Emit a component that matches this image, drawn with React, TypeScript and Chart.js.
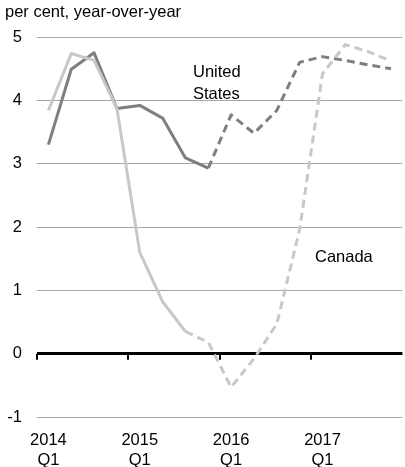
import React, { useEffect, useRef } from "react";
import { Chart, registerables } from "chart.js";

Chart.register(...registerables);

const quarters = [
  "2014 Q1", "2014 Q2", "2014 Q3", "2014 Q4",
  "2015 Q1", "2015 Q2", "2015 Q3", "2015 Q4",
  "2016 Q1", "2016 Q2", "2016 Q3", "2016 Q4",
  "2017 Q1", "2017 Q2", "2017 Q3", "2017 Q4",
];

const xTickLabels: (string | string[])[] = [
  ["2014", "Q1"], "", "", "",
  ["2015", "Q1"], "", "", "",
  ["2016", "Q1"], "", "", "",
  ["2017", "Q1"], "", "", "",
];

const unitedStates = [3.3, 4.49, 4.75, 3.87, 3.92, 3.72, 3.09, 2.93, 3.77, 3.48, 3.84, 4.6, 4.69, 4.63, 4.56, 4.5];
const canada = [3.84, 4.74, 4.63, 3.87, 1.6, 0.82, 0.35, 0.18, -0.53, -0.08, 0.47, 1.96, 4.42, 4.88, 4.77, 4.62];

// index of the first point of the projected (dashed) part
const usProjectionFrom = 7;
const canadaProjectionFrom = 6;

const yMin = -1;
const yMax = 5;

const FONT = "Arial, 'Liberation Sans', sans-serif";
const FONT_SIZE = 16.5;

const overlayPlugin = {
  id: "overlay",
  afterDatasetsDraw(chart: any) {
    const { ctx, scales } = chart;
    const x = scales.x;
    const y = scales.y;
    const y0 = y.getPixelForValue(0);
    const half = (x.getPixelForValue(1) - x.getPixelForValue(0)) / 2;
    ctx.save();
    ctx.strokeStyle = "#000";
    ctx.lineWidth = 2;
    ctx.beginPath();
    xTickLabels.forEach((l, i) => {
      if (l === "") return;
      const px = Math.round(x.getPixelForValue(i) - half);
      ctx.moveTo(px, y0);
      ctx.lineTo(px, y0 + 6);
    });
    ctx.stroke();
    ctx.restore();
  },
  afterDraw(chart: any) {
    const { ctx } = chart;
    ctx.save();
    ctx.fillStyle = "#000";
    ctx.font = `${FONT_SIZE}px ${FONT}`;
    ctx.textBaseline = "alphabetic";
    ctx.textAlign = "left";
    ctx.fillText("per cent, year-over-year", 5, 17);
    ctx.fillText("United", 193, 77);
    ctx.fillText("States", 193, 99);
    ctx.fillText("Canada", 315, 262);
    ctx.restore();
  },
};

export default function App() {
  const ref = useRef<HTMLCanvasElement | null>(null);

  useEffect(() => {
    if (!ref.current) return;
    const dashed = (from: number) => (c: any) => (c.p0DataIndex >= from ? [8, 5] : undefined);
    const chart = new Chart(ref.current, {
      type: "line",
      data: {
        labels: quarters,
        datasets: [
          {
            label: "Canada",
            data: canada,
            borderColor: "#c8c8c8",
            borderWidth: 3,
            pointRadius: 0,
            tension: 0,
            borderJoinStyle: "round",
            segment: { borderDash: dashed(canadaProjectionFrom) },
          },
          {
            label: "United States",
            data: unitedStates,
            borderColor: "#7f7f7f",
            borderWidth: 3,
            pointRadius: 0,
            tension: 0,
            borderJoinStyle: "round",
            segment: { borderDash: dashed(usProjectionFrom) },
          },
        ],
      },
      options: {
        responsive: false,
        animation: false,
        layout: { padding: { top: 37, right: 0, bottom: 0, left: 0 } },
        plugins: {
          legend: { display: false },
          tooltip: { enabled: false },
          title: { display: false },
        },
        scales: {
          x: {
            offset: true,
            border: { display: false },
            grid: { display: false, drawTicks: false, offset: true },
            afterFit: (s: any) => {
              s.height = 50;
            },
            ticks: {
              autoSkip: false,
              maxRotation: 0,
              minRotation: 0,
              padding: 14,
              color: "#000",
              font: { family: FONT, size: FONT_SIZE, lineHeight: 1.17 },
              callback: (_v: any, i: number) => xTickLabels[i],
            },
          },
          y: {
            min: yMin,
            max: yMax,
            border: { display: false },
            afterFit: (s: any) => {
              s.width = 37;
            },
            grid: {
              drawTicks: false,
              color: (c: any) => (c.tick && c.tick.value === 0 ? "#000" : "#a6a6a6"),
              lineWidth: (c: any) => (c.tick && c.tick.value === 0 ? 3 : 1),
            },
            ticks: {
              stepSize: 1,
              padding: 15,
              color: "#000",
              font: { family: FONT, size: FONT_SIZE },
            },
          },
        },
      },
      plugins: [overlayPlugin],
    });
    return () => chart.destroy();
  }, []);

  return (
    <div style={{ position: "absolute", left: 0, top: 0, width: 405, height: 467 }}>
      <canvas ref={ref} width={405} height={467} style={{ display: "block" }} />
    </div>
  );
}
